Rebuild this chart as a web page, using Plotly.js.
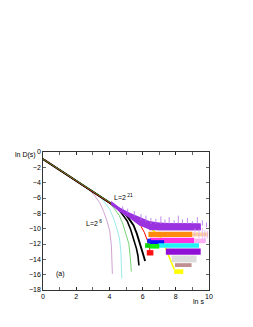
<!DOCTYPE html>
<html><head><meta charset="utf-8">
<script src="https://cdn.plot.ly/plotly-3.0.1.min.js"></script>
<style>html,body{margin:0;padding:0;background:#fff}#c{width:253px;height:327px}</style>
</head><body><div id="c"></div>
<script>
// smooth parts of the distributions ln D(s) vs ln s, for several L
const trendX = [0, 1, 2, 3, 4, 5, 6, 6.6];
const trendY = [-0.92, -2.32, -3.72, -5.12, -6.52, -7.92, -9.32, -10.16];
const l6X = [0, 1, 2, 2.8, 3.1, 3.42, 3.65, 3.86, 4.02, 4.12, 4.18];
const l6Y = [-0.92, -2.32, -3.72, -4.96, -5.65, -6.62, -7.75, -9.05, -10.3, -12.2, -15.9];
const l7X = [0, 1, 2, 3, 3.4, 3.72, 4.02, 4.24, 4.44, 4.6, 4.69, 4.75];
const l7Y = [-0.92, -2.32, -3.72, -5.12, -5.8, -6.55, -7.5, -8.6, -9.9, -11.16, -12.99, -16.5];
const l8X = [0, 1, 2, 3, 3.95, 4.3, 4.6, 4.81, 5.01, 5.17, 5.26, 5.32];
const l8Y = [-0.92, -2.32, -3.72, -5.12, -6.5, -7.4, -8.3, -9.4, -10.7, -11.96, -13.78, -15.6];
const l9X = [0, 1, 2, 3, 4, 4.45, 4.76, 5.07, 5.28, 5.48, 5.63, 5.72, 5.78];
const l9Y = [-0.92, -2.32, -3.72, -5.12, -6.52, -7.25, -8.05, -9.0, -10.11, -11.39, -12.6, -13.53, -14.8];
const l10X = [0, 1, 2, 3, 4, 4.85, 5.14, 5.45, 5.65, 5.85, 6.0, 6.09, 6.15];
const l10Y = [-0.92, -2.32, -3.72, -5.12, -6.52, -7.8, -8.6, -9.55, -10.63, -11.91, -13.12, -13.75, -14.23];
const l11X = [0, 2, 4, 5.3, 5.6, 5.9, 6.1, 6.3, 6.45];
const l11Y = [-0.92, -3.72, -6.52, -8.34, -8.86, -9.68, -10.46, -11.6, -12.9];
const yelX = [6.6, 7.0, 7.25, 7.5, 7.7, 7.9];
const yelY = [-10.2, -10.9, -11.8, -13.2, -14.3, -15.3];

// noisy floors of the larger systems: [x start, x end, low, high]
const bandNames = ['purple', 'orange', 'orangeLight', 'magenta', 'magentaLight', 'blue', 'cyan', 'green', 'violet', 'red', 'gray', 'brown', 'yellow', 'greenBit', 'blueBit'];
const bandX0 = [6.4, 6.35, 9.0, 6.45, 9.1, 6.4, 6.95, 6.4, 7.4, 6.25, 7.75, 7.95, 7.9, 6.15, 6.28];
const bandX1 = [9.5, 9.0, 9.95, 9.1, 9.8, 7.3, 9.4, 7.0, 9.5, 6.65, 9.25, 8.95, 8.45, 6.45, 6.5];
const bandLo = [-10.2, -11.1, -11.0, -11.9, -11.9, -12.2, -12.5, -12.6, -13.4, -13.5, -14.4, -15.0, -15.9, -12.5, -11.9];
const bandHi = [-9.3, -10.4, -10.5, -11.2, -11.3, -11.5, -11.9, -12.0, -12.6, -12.8, -13.5, -14.5, -15.3, -11.9, -11.3];

// noisy cloud of the largest system along the power law
const cloudUpX = [4.1, 4.6, 5.2, 5.8, 6.4, 7.0, 7.8, 8.6, 9.5];
const cloudUpY = [-6.4, -7.2, -7.9, -8.5, -9.0, -9.2, -9.3, -9.3, -9.4];
const cloudLoX = [9.5, 7.0, 6.4, 5.8, 5.2, 4.6, 4.1];
const cloudLoY = [-10.2, -10.2, -10.1, -9.6, -8.6, -7.8, -6.9];
// spikes above the cloud
const spikeX = [4.8, 5.1, 5.5, 5.9, 6.2, 6.5, 6.8, 7.1, 7.35, 7.6, 7.9, 8.15, 8.4, 8.7, 9.0, 9.3, 9.6, 9.85];
const spikeTop = [-7.1, -7.4, -7.7, -8.1, -8.3, -8.6, -8.7, -8.4, -8.8, -8.5, -8.9, -8.3, -8.8, -8.6, -9.0, -8.5, -8.9, -9.2];
const spikeBase = [-7.6, -8.0, -8.4, -8.9, -9.1, -9.4, -9.4, -9.4, -9.4, -9.4, -9.4, -9.4, -9.4, -9.4, -9.4, -9.4, -9.6, -9.8];
// light spikes to the right of the orange / magenta floors
const lightX = [9.15, 9.4, 9.6, 9.75, 9.9];
const lightTop = [-10.0, -10.1, -9.9, -10.2, -10.3];
const lightBase = [-11.0, -11.2, -11.4, -11.6, -11.3];

const bandColor = {purple:'#9a32e0', orange:'#ff8a10', orangeLight:'#ffcf9a', magenta:'#ff30e0', magentaLight:'#ffb0f4',
  blue:'#1010ff', cyan:'#20f4f4', green:'#10f010', violet:'#9010d8', red:'#ff1010', gray:'#dcdcdc', brown:'#c09090', yellow:'#ffff00',
  greenBit:'#10d010', blueBit:'#2020ff'};

const traces = [];
function line(x, y, color, w, dash) {
  traces.push({x: x, y: y, type: 'scatter', mode: 'lines', line: {color: color, width: w, dash: dash || 'solid'}, hoverinfo: 'skip'});
}
function poly(x, y, color) {
  traces.push({x: x, y: y, type: 'scatter', mode: 'lines', fill: 'toself', fillcolor: color, line: {width: 0, color: color}, hoverinfo: 'skip'});
}
line(l6X, l6Y, '#c88ac8', 0.8);
line(l7X, l7Y, '#80e4e4', 0.8);
line(l8X, l8Y, '#50c850', 0.8);
line(l9X, l9Y, '#000000', 1.6);
line(l10X, l10Y, '#000000', 1.9);
line(l11X, l11Y, '#ff0000', 1.0);
line(yelX, yelY, '#ffff00', 1.6);
line(trendX, trendY, '#30a030', 0.8);
bandNames.forEach((n, i) => {
  if (n === 'purple') return;
  poly([bandX0[i], bandX1[i], bandX1[i], bandX0[i]], [bandLo[i], bandLo[i], bandHi[i], bandHi[i]], bandColor[n]);
});
const pi = bandNames.indexOf('purple');
poly(cloudUpX.concat(cloudLoX), cloudUpY.concat(cloudLoY), bandColor.purple);
poly([bandX0[pi], bandX1[pi], bandX1[pi], bandX0[pi]], [bandLo[pi], bandLo[pi], bandHi[pi], bandHi[pi]], bandColor.purple);
const sx = [], sy = [];
spikeX.forEach((x, i) => { sx.push(x, x, null); sy.push(spikeBase[i], spikeTop[i], null); });
line(sx, sy, '#b070e8', 0.8);
const lx = [], ly = [];
lightX.forEach((x, i) => { lx.push(x, x, null); ly.push(lightBase[i], lightTop[i], null); });
line(lx, ly, '#e0b0f0', 0.8);

const fnt = {family: 'Liberation Sans, Arial, sans-serif', size: 7, color: '#000'};
const layout = {
  width: 253, height: 327,
  margin: {l: 43, r: 44, t: 152, b: 37, pad: 0},
  paper_bgcolor: '#fff', plot_bgcolor: '#fff',
  showlegend: false,
  font: fnt,
  xaxis: {range: [0, 10], tickvals: [0, 2, 4, 6, 8, 10], ticks: 'inside', ticklen: 3, tickwidth: 0.6, tickcolor: '#000',
    minor: {dtick: 1, ticks: 'inside', ticklen: 3, tickwidth: 0.6, tickcolor: '#000'},
    showgrid: false, zeroline: false, showline: true, linecolor: '#000', linewidth: 0.8, mirror: 'allticks', tickfont: fnt},
  yaxis: {range: [-18, 0], tickvals: [0, -2, -4, -6, -8, -10, -12, -14, -16, -18], ticks: 'inside', ticklen: 3, tickwidth: 0.6, tickcolor: '#000',
    showgrid: false, zeroline: false, showline: true, linecolor: '#000', linewidth: 0.8, mirror: 'allticks', tickfont: fnt},
  annotations: [
    {text: 'ln D(s)', xref: 'paper', yref: 'paper', x: -0.105, y: 0.98, showarrow: false, font: fnt, xanchor: 'center', yanchor: 'middle'},
    {text: 'ln s', xref: 'paper', yref: 'paper', x: 0.935, y: -0.085, showarrow: false, font: fnt, xanchor: 'center', yanchor: 'middle'},
    {text: '(a)', xref: 'x', yref: 'y', x: 1.05, y: -15.95, showarrow: false, font: fnt},
    {text: 'L=2<sup> 21</sup>', xref: 'x', yref: 'y', x: 4.85, y: -5.9, showarrow: false, font: fnt},
    {text: 'L=2<sup> 6</sup>', xref: 'x', yref: 'y', x: 3.05, y: -9.2, showarrow: false, font: fnt}
  ]
};
Plotly.newPlot('c', traces, layout, {staticPlot: true, displayModeBar: false});
</script></body></html>
